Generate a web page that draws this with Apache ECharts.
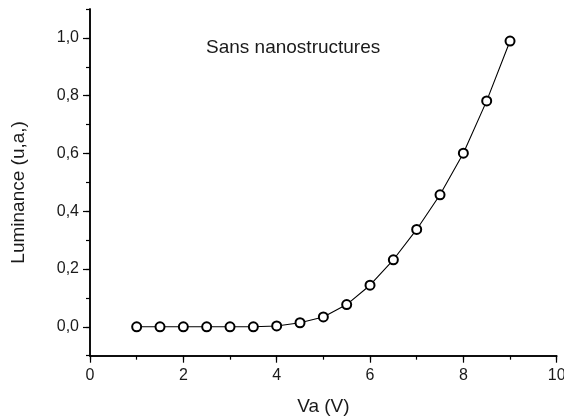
<!DOCTYPE html>
<html>
<head>
<meta charset="utf-8">
<script src="https://cdn.jsdelivr.net/npm/echarts@6/dist/echarts.min.js"></script>
<style>
html,body{margin:0;padding:0;background:#fff;}
#c{width:564px;height:418px;}
</style>
</head>
<body>
<div id="c"></div>
<script>
var vaValues = [1, 1.5, 2, 2.5, 3, 3.5, 4, 4.5, 5, 5.5, 6, 6.5, 7, 7.5, 8, 8.5, 9];
var luminanceValues = [0, 0, 0, 0, 0, 0, 0.003, 0.014, 0.034, 0.077, 0.144, 0.232, 0.337, 0.457, 0.601, 0.782, 0.989];
var yMajorTicks = [0, 0.2, 0.4, 0.6, 0.8, 1.0];
var xMajorTicks = [0, 2, 4, 6, 8, 10];
var titleText = 'Sans nanostructures';
var xName = 'Va (V)';
var yName = 'Luminance (u,a,)';

var FONT = 'Liberation Sans, Arial, sans-serif';
var TXT = '#1a1a1a';
var chart = echarts.init(document.getElementById('c'), null, {renderer: 'canvas'});
var data = vaValues.map(function (v, i) { return [v, luminanceValues[i]]; });
function fmt(v) { return v.toFixed(1).replace('.', ','); }

var grid = {left: 90, right: 7.3, top: 9, bottom: 62.3, containLabel: false, outerBoundsMode: 'none'};
var yBase = {
  type: 'value', min: -0.1, max: 1.1, position: 'left',
  splitLine: {show: false},
  axisLine: {show: true, onZero: false, lineStyle: {color: '#000', width: 1.5}}
};
var xBase = {
  type: 'value', min: 0, max: 10, position: 'bottom',
  splitLine: {show: false},
  axisLine: {show: true, onZero: false, lineStyle: {color: '#000', width: 1.5}}
};

var option = {
  backgroundColor: '#fff',
  animation: false,
  title: {
    text: titleText, left: 201, top: 33,
    textStyle: {fontFamily: FONT, fontSize: 19, fontWeight: 'normal', color: TXT}
  },
  grid: grid,
  xAxis: [
    Object.assign({}, xBase, {
      interval: 1,
      axisTick: {show: true, inside: false, length: 4, lineStyle: {color: '#000', width: 1.2}},
      axisLabel: {show: false}
    }),
    Object.assign({}, xBase, {
      name: xName, nameLocation: 'middle', nameGap: 42,
      nameTextStyle: {fontFamily: FONT, fontSize: 19, color: TXT},
      axisTick: {show: true, inside: false, length: 7, customValues: xMajorTicks, lineStyle: {color: '#000', width: 1.2}},
      axisLabel: {show: true, margin: 12, customValues: xMajorTicks, fontFamily: FONT, fontSize: 16, color: TXT,
        formatter: function (v) { return String(v); }}
    })
  ],
  yAxis: [
    Object.assign({}, yBase, {
      interval: 0.1,
      axisTick: {show: true, inside: false, length: 4, lineStyle: {color: '#000', width: 1.2}},
      axisLabel: {show: false}
    }),
    Object.assign({}, yBase, {
      name: yName, nameLocation: 'middle', nameGap: 62,
      nameTextStyle: {fontFamily: FONT, fontSize: 19, color: TXT, padding: [0, 20, 0, 0]},
      axisTick: {show: true, inside: false, length: 7, customValues: yMajorTicks, lineStyle: {color: '#000', width: 1.2}},
      axisLabel: {show: true, margin: 11, customValues: yMajorTicks, fontFamily: FONT, fontSize: 16, color: TXT,
        formatter: function (v) { return fmt(v); }}
    })
  ],
  series: [{
    type: 'line', xAxisIndex: 0, yAxisIndex: 0,
    data: data,
    symbol: 'emptyCircle', symbolSize: 9,
    lineStyle: {color: '#000', width: 1.1},
    itemStyle: {color: '#000', borderColor: '#000', borderWidth: 1},
    z: 5
  }]
};
chart.setOption(option);
</script>
</body>
</html>
